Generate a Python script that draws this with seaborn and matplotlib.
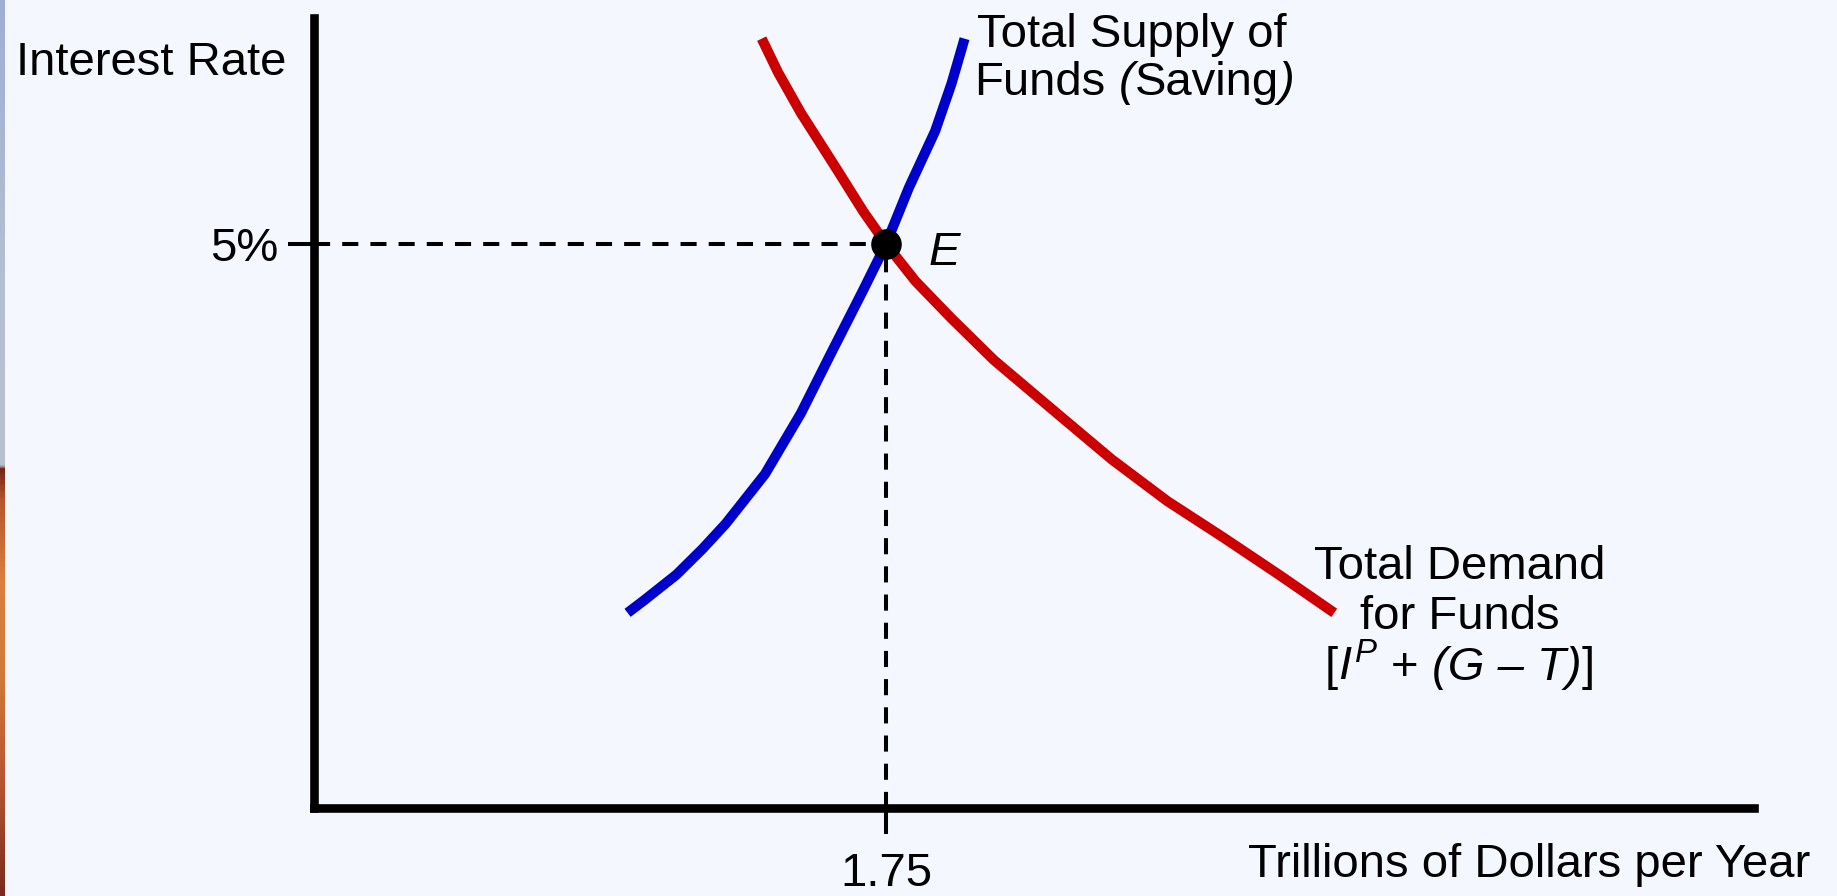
import numpy as np
import matplotlib
matplotlib.use("Agg")
import matplotlib.pyplot as plt
from matplotlib.colors import LinearSegmentedColormap
import seaborn as sns

# curve points (quantity in trillions, rate in %)
supply_q = [0.96, 1.01, 1.11, 1.19, 1.26, 1.38, 1.49, 1.58, 1.68, 1.75, 1.82, 1.90, 1.95, 1.99]
supply_r = [1.73, 1.84, 2.07, 2.30, 2.52, 2.96, 3.50, 4.02, 4.59, 5.00, 5.50, 6.00, 6.42, 6.82]

demand_q = [1.37, 1.42, 1.49, 1.60, 1.68, 1.75, 1.84, 1.95, 2.08, 2.28, 2.44, 2.61, 2.78, 2.95, 3.12]
demand_r = [6.82, 6.52, 6.16, 5.66, 5.29, 5.00, 4.67, 4.34, 3.97, 3.48, 3.09, 2.72, 2.40, 2.07, 1.73]

eq_q = 1.75
eq_r = 5.0
x_ticks = [eq_q]
x_ticklabels = ["1.75"]
y_ticks = [eq_r]
y_ticklabels = ["5%"]

bg = "#F4F7FD"
blue = "#0000CC"
red = "#CC0000"

sns.set_theme(style="white")
plt.rcParams["font.family"] = ["Liberation Sans", "DejaVu Sans"]
plt.rcParams["text.color"] = "black"
plt.rcParams["mathtext.fontset"] = "custom"
plt.rcParams["mathtext.rm"] = "Liberation Sans"
plt.rcParams["mathtext.it"] = "Liberation Sans:italic"
fs = 34

W, H = 1837, 896
fig = plt.figure(figsize=(W / 100, H / 100), dpi=100, facecolor=bg)

# thin slide-background strip on the left edge
strip = fig.add_axes([0, 0, 5 / W, 1])
cmap = LinearSegmentedColormap.from_list(
    "strip",
    [(0.0, "#9FAED6"), (0.3, "#B3BFD3"), (0.52, "#B7C2D0"), (0.525, "#7A2418"),
     (0.56, "#B5562C"), (0.65, "#D98040"), (0.75, "#D27A3A"), (0.88, "#B45530"),
     (1.0, "#7A2A1E")])
strip.imshow(np.linspace(0, 1, 400).reshape(-1, 1), cmap=cmap, aspect="auto")
strip.axis("off")

# main axes: spines are the drawn axes
left, bottom = 313.5 / W, (H - 808) / H
right, top = 1754 / W, (H - 18) / H
ax = fig.add_axes([left, bottom, right - left, top - bottom])
ax.set_facecolor(bg)
ax.set_xlim(0, 4.403)
ax.set_ylim(0, 7.003)

for s in ["top", "right"]:
    ax.spines[s].set_visible(False)
for s in ["left", "bottom"]:
    ax.spines[s].set_linewidth(6.2)
    ax.spines[s].set_color("black")

# dashed guides to the equilibrium
guide = dict(color="black", lw=2.9, linestyle=(0, (4, 3)), zorder=2)
ax.plot([0, eq_q], [eq_r, eq_r], **guide)
ax.plot([eq_q, eq_q], [0, eq_r], **guide)

sns.lineplot(x=supply_q, y=supply_r, sort=False, estimator=None, color=blue,
             lw=7.3, solid_capstyle="butt", ax=ax, zorder=3)
sns.lineplot(x=demand_q, y=demand_r, sort=False, estimator=None, color=red,
             lw=7.3, solid_capstyle="butt", ax=ax, zorder=3)
ax.plot([eq_q], [eq_r], "o", color="black", ms=21, zorder=5)

ax.set_xticks(x_ticks)
ax.set_xticklabels(x_ticklabels)
ax.set_yticks(y_ticks)
ax.set_yticklabels(y_ticklabels)
ax.tick_params(axis="both", direction="out", length=19, width=2.9, color="black",
               labelsize=fs, labelcolor="black", bottom=True, left=True)
ax.tick_params(axis="x", pad=13)
ax.tick_params(axis="y", pad=6)
ax.set_xlabel("")
ax.set_ylabel("")

renderer = fig.canvas.get_renderer()
space = fs * 100 / 72 * 0.278


def rich_line(x, y, pieces, ha="left"):
    # pieces: (text, italic, gap before in spaces); placed along one baseline
    widths = []
    for s, it, _ in pieces:
        t = fig.text(0, 0, s, fontsize=fs, style="italic" if it else "normal")
        widths.append(t.get_window_extent(renderer).width)
        t.remove()
    total = sum(widths) + sum(g for _, _, g in pieces) * space
    x0, y0 = ax.transData.transform((x, y))
    if ha == "center":
        x0 -= total / 2
    for (s, it, g), w in zip(pieces, widths):
        x0 += g * space
        fig.text(x0 / W, y0 / H, s, fontsize=fs, style="italic" if it else "normal",
                 ha="left", va="baseline", color="black")
        x0 += w


ax.text(1.881, 4.814, "E", fontsize=fs, style="italic", ha="left", va="baseline")

ax.text(2.028, 6.749, "Total Supply of", fontsize=fs, ha="left", va="baseline")
rich_line(2.020, 6.321, [("Funds", False, 0), ("(", True, 1), ("Saving", False, 0),
                         (")", True, 0)])

ax.text(3.504, 2.030, "Total Demand", fontsize=fs, ha="center", va="baseline")
ax.text(3.504, 1.587, "for Funds", fontsize=fs, ha="center", va="baseline")
rich_line(3.504, 1.135, [("[", False, 0), (r"$\mathit{I}^{\mathit{P}}$", False, 0),
                         ("+", False, 1), ("(G \u2013 T)", True, 1), ("]", False, 0)],
          ha="center")

fig.text(16 / W, (H - 75) / H, "Interest Rate", fontsize=fs, ha="left", va="baseline")
fig.text(1810 / W, (H - 877) / H, "Trillions of Dollars per Year", fontsize=fs,
         ha="right", va="baseline")

fig.savefig("out.png", dpi=100, facecolor=bg)
